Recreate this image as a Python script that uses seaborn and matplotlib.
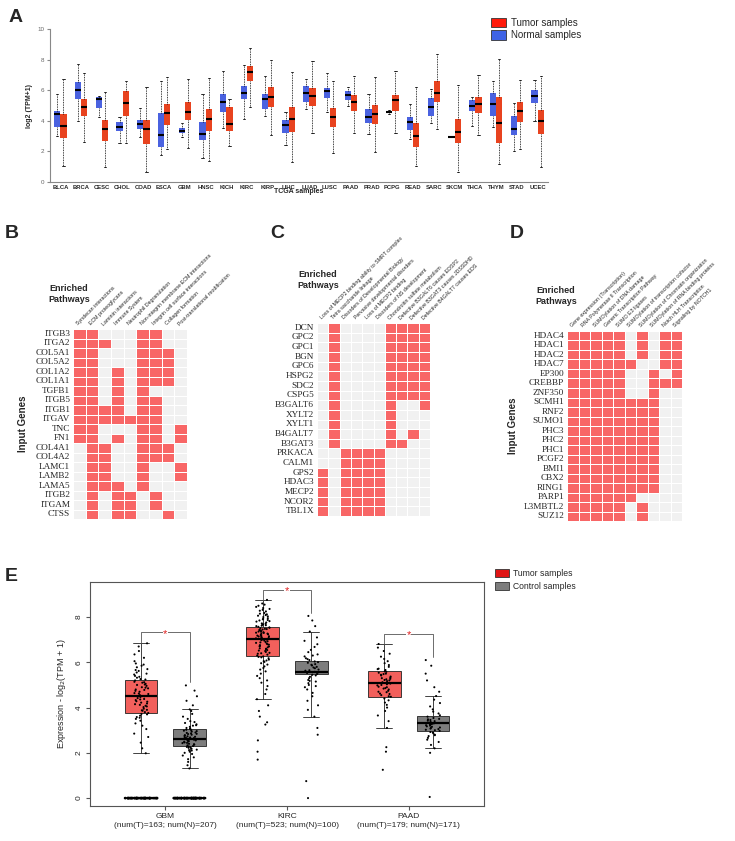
import numpy as np
import pandas as pd
import matplotlib
matplotlib.use('Agg')
import matplotlib.pyplot as plt
from matplotlib.colors import ListedColormap
from matplotlib.patches import Patch
import seaborn as sns

# ---------------- Panel A data: box summaries [low whisker, q1, median, q3, high whisker]
tcga_types = ['BLCA', 'BRCA', 'CESC', 'CHOL', 'COAD', 'ESCA', 'GBM', 'HNSC', 'KICH', 'KIRC',
              'KIRP', 'LIHC', 'LUAD', 'LUSC', 'PAAD', 'PRAD', 'PCPG', 'READ', 'SARC', 'SKCM',
              'THCA', 'THYM', 'STAD', 'UCEC']
normal_stats = [
    [3.0, 3.6, 4.45, 4.65, 5.75], [4.0, 5.4, 6.0, 6.55, 7.7], [4.28, 4.83, 5.4, 5.55, 5.63],
    [2.58, 3.36, 3.6, 3.9, 4.28], [2.93, 3.47, 3.78, 4.06, 4.83], [1.77, 2.31, 3.08, 4.54, 6.57],
    [2.93, 3.23, 3.36, 3.52, 3.84], [1.55, 2.75, 3.12, 3.93, 5.76], [3.52, 4.56, 5.24, 5.74, 7.23],
    [4.1, 5.41, 5.83, 6.29, 7.66], [4.32, 4.76, 5.44, 5.74, 6.9], [2.42, 3.19, 3.71, 4.06, 4.6],
    [4.76, 5.26, 5.81, 6.29, 6.72], [4.6, 5.48, 5.96, 6.14, 7.12], [4.98, 5.37, 5.7, 5.98, 6.24],
    [3.14, 3.84, 4.28, 4.78, 5.74], [4.45, 4.52, 4.56, 4.62, 4.7], [2.79, 3.41, 3.95, 4.28, 5.11],
    [3.84, 4.34, 4.93, 5.52, 6.09], [2.97, 2.97, 2.97, 2.97, 2.97], [3.67, 4.65, 5.0, 5.33, 5.55],
    [3.58, 4.32, 5.09, 5.81, 6.57], [2.03, 3.08, 3.45, 4.34, 5.15], [4.0, 5.15, 5.63, 6.03, 6.64],
]
tumor_stats = [
    [1.05, 2.85, 3.65, 4.45, 6.7], [2.6, 4.3, 4.9, 5.4, 7.1], [1.0, 2.7, 3.45, 4.05, 5.9],
    [2.58, 4.32, 5.15, 5.92, 6.6], [0.63, 2.5, 3.45, 4.06, 6.24], [2.16, 3.71, 4.5, 5.11, 6.86],
    [2.25, 4.02, 4.6, 5.24, 6.75], [1.4, 3.36, 4.13, 4.76, 6.79], [2.36, 3.36, 3.8, 4.87, 5.44],
    [4.93, 6.57, 7.18, 7.6, 8.76], [3.08, 4.89, 5.55, 6.2, 7.95], [1.29, 3.3, 4.13, 4.87, 7.16],
    [3.23, 4.98, 5.63, 6.14, 7.88], [1.88, 3.58, 4.24, 4.83, 6.57], [3.23, 4.61, 5.26, 5.7, 6.94],
    [1.99, 3.8, 4.43, 5.04, 6.86], [3.19, 4.67, 5.33, 5.7, 7.23], [1.05, 2.27, 3.03, 3.84, 6.18],
    [3.47, 5.22, 5.81, 6.57, 8.36], [0.63, 2.53, 3.3, 4.13, 6.35], [3.08, 4.54, 5.09, 5.55, 6.97],
    [1.16, 2.58, 3.84, 5.55, 8.03], [2.14, 3.95, 4.61, 5.2, 6.64], [0.96, 3.12, 4.0, 4.72, 6.9],
]

# ---------------- Panels B, C, D: gene x pathway membership
b_genes = ['ITGB3', 'ITGA2', 'COL5A1', 'COL5A2', 'COL1A2', 'COL1A1', 'TGFB1', 'ITGB5', 'ITGB1', 'ITGAV',
           'TNC', 'FN1', 'COL4A1', 'COL4A2', 'LAMC1', 'LAMB2', 'LAMA5', 'ITGB2', 'ITGAM', 'CTSS']
b_paths = ['Syndecan interactions', 'ECM proteoglycans', 'Laminin interactions', 'Immune System',
           'Neutrophil Degranulation', 'Non-integrin membrane-ECM interactions',
           'Integrin cell surface interactions', 'Collagen formation', 'Post-translational modification']
b_matrix = [
    [1, 1, 0, 0, 0, 1, 1, 0, 0], [1, 1, 1, 0, 0, 1, 1, 0, 0], [1, 1, 0, 0, 0, 1, 1, 1, 0],
    [1, 1, 0, 0, 0, 1, 1, 1, 0], [1, 1, 0, 1, 0, 1, 1, 1, 0], [1, 1, 0, 1, 0, 1, 1, 1, 0],
    [1, 1, 0, 1, 0, 1, 0, 0, 0], [1, 1, 0, 1, 0, 1, 1, 0, 0], [1, 1, 1, 1, 0, 1, 1, 0, 0],
    [1, 1, 1, 1, 1, 1, 1, 0, 0], [1, 1, 0, 0, 0, 1, 1, 0, 1], [1, 1, 0, 1, 0, 1, 1, 0, 1],
    [0, 1, 1, 0, 0, 1, 1, 1, 0], [0, 1, 1, 0, 0, 1, 1, 1, 0], [0, 1, 1, 0, 0, 1, 0, 0, 1],
    [0, 1, 1, 0, 0, 1, 0, 0, 1], [0, 1, 1, 1, 0, 1, 0, 0, 0], [0, 1, 0, 1, 1, 0, 1, 0, 0],
    [0, 1, 0, 1, 1, 0, 1, 0, 0], [0, 1, 0, 1, 1, 0, 0, 1, 0],
]

c_genes = ['DCN', 'GPC2', 'GPC1', 'BGN', 'GPC6', 'HSPG2', 'SDC2', 'CSPG5', 'B3GALT6', 'XYLT2',
           'XYLT1', 'B4GALT7', 'B3GAT3', 'PRKACA', 'CALM1', 'GPS2', 'HDAC3', 'MECP2', 'NCOR2', 'TBL1X']
c_paths = ['Loss of MECP2 binding ability to SMRT complex', 'Tetra saccharide linkage',
           'Disorders of Developmental Biology', 'Pervasive developmental disorders',
           'Loss of MECP2 binding', 'Disorders of NS development', 'Chondroitin sulfate metabolism',
           'Defective B3GALT6 causes EDSP2', 'Defective B3GAT3 causes JDSSDHD',
           'Defective B4GALT7 causes EDS']
c_matrix = [
    [0, 1, 0, 0, 0, 0, 1, 1, 1, 1], [0, 1, 0, 0, 0, 0, 1, 1, 1, 1], [0, 1, 0, 0, 0, 0, 1, 1, 1, 1],
    [0, 1, 0, 0, 0, 0, 1, 1, 1, 1], [0, 1, 0, 0, 0, 0, 1, 1, 1, 1], [0, 1, 0, 0, 0, 0, 1, 1, 1, 1],
    [0, 1, 0, 0, 0, 0, 1, 1, 1, 1], [0, 1, 0, 0, 0, 0, 1, 1, 1, 1], [0, 1, 0, 0, 0, 0, 1, 0, 0, 1],
    [0, 1, 0, 0, 0, 0, 1, 0, 0, 0], [0, 1, 0, 0, 0, 0, 1, 0, 0, 0], [0, 1, 0, 0, 0, 0, 1, 0, 1, 0],
    [0, 1, 0, 0, 0, 0, 1, 1, 0, 0], [0, 0, 1, 1, 1, 1, 0, 0, 0, 0], [0, 0, 1, 1, 1, 1, 0, 0, 0, 0],
    [1, 0, 1, 1, 1, 1, 0, 0, 0, 0], [1, 0, 1, 1, 1, 1, 0, 0, 0, 0], [1, 0, 1, 1, 1, 1, 0, 0, 0, 0],
    [1, 0, 1, 1, 1, 1, 0, 0, 0, 0], [1, 0, 1, 1, 1, 1, 0, 0, 0, 0],
]

d_genes = ['HDAC4', 'HDAC1', 'HDAC2', 'HDAC7', 'EP300', 'CREBBP', 'ZNF350', 'SCMH1', 'RNF2', 'SUMO1',
           'PHC3', 'PHC2', 'PHC1', 'PCGF2', 'BMI1', 'CBX2', 'RING1', 'PARP1', 'L3MBTL2', 'SUZ12']
d_paths = ['Gene expression (Transcription)', 'RNA Polymerase II Transcription',
           'SUMOylation of DNA damage', 'Generic Transcription Pathway', 'SUMO E3 ligases',
           'SUMOylation of transcription cofactor', 'SUMOylation of Chromatin organization',
           'SUMOylation of RNA binding proteins', 'Notch HLH Transcription', 'Signaling by NOTCH1']
d_matrix = [
    [1, 1, 1, 1, 1, 0, 1, 0, 1, 1], [1, 1, 1, 1, 1, 0, 1, 0, 1, 1], [1, 1, 1, 1, 1, 0, 1, 0, 1, 1],
    [1, 1, 1, 1, 1, 1, 0, 0, 1, 1], [1, 1, 1, 1, 1, 0, 0, 1, 0, 1], [1, 1, 1, 1, 1, 0, 0, 1, 1, 1],
    [1, 1, 1, 1, 1, 0, 0, 1, 0, 0], [1, 1, 1, 1, 1, 1, 1, 1, 0, 0], [1, 1, 1, 1, 1, 1, 1, 1, 0, 0],
    [1, 1, 1, 1, 1, 1, 1, 1, 0, 0], [1, 1, 1, 1, 1, 1, 1, 1, 0, 0], [1, 1, 1, 1, 1, 1, 1, 1, 0, 0],
    [1, 1, 1, 1, 1, 1, 1, 1, 0, 0], [1, 1, 1, 1, 1, 1, 1, 1, 0, 0], [1, 1, 1, 1, 1, 1, 1, 1, 0, 0],
    [1, 1, 1, 1, 1, 1, 1, 1, 0, 0], [1, 1, 1, 1, 1, 1, 1, 1, 0, 0], [1, 1, 1, 1, 1, 1, 0, 0, 0, 0],
    [1, 1, 1, 1, 1, 0, 1, 0, 0, 0], [1, 1, 1, 1, 1, 0, 1, 0, 0, 0],
]

# ---------------- Panel E data
e_types = ['GBM', 'KIRC', 'PAAD']
e_labels = ['GBM\n(num(T)=163; num(N)=207)', 'KIRC\n(num(T)=523; num(N)=100)',
            'PAAD\n(num(T)=179; num(N)=171)']
e_tumor_box = [[1.98, 3.78, 4.5, 5.22, 6.84], [4.37, 6.28, 7.04, 7.58, 8.76], [3.1, 4.48, 5.1, 5.62, 6.81]]
e_control_box = [[1.31, 2.3, 2.6, 3.04, 3.92], [3.6, 5.47, 5.56, 6.06, 7.36], [2.2, 2.98, 3.3, 3.63, 4.51]]
e_zero_counts_tumor = [70, 0, 0]
e_zero_counts_control = [80, 0, 0]
gbm_t_pts = [1.98, 2.2, 2.45, 2.7, 2.85, 3.05, 3.2, 3.3, 3.42, 3.5, 3.58, 3.64, 3.7, 3.76, 3.8, 3.86,
             3.9, 3.95, 4.02, 4.08, 4.12, 4.18, 4.22, 4.28, 4.33, 4.38, 4.42, 4.47, 4.5, 4.55, 4.6,
             4.64, 4.7, 4.74, 4.8, 4.85, 4.9, 4.96, 5.0, 5.05, 5.1, 5.14, 5.2, 5.26, 5.32, 5.4, 5.46,
             5.55, 5.62, 5.7, 5.78, 5.85, 5.95, 6.05, 6.2, 6.35, 6.5, 6.7, 6.84,
             3.55, 3.72, 3.88, 4.05, 4.15, 4.26, 4.36, 4.52, 4.62, 4.78, 4.88, 5.02, 5.12, 5.24,
             5.36, 5.5, 5.66, 5.9]
gbm_n_pts = [1.31, 1.45, 1.6, 1.72, 1.8, 1.88, 1.95, 2.0, 2.05, 2.1, 2.14, 2.18, 2.22, 2.26, 2.3, 2.33,
             2.36, 2.4, 2.43, 2.46, 2.5, 2.52, 2.55, 2.58, 2.6, 2.62, 2.65, 2.68, 2.7, 2.73, 2.76, 2.8,
             2.83, 2.86, 2.9, 2.94, 2.98, 3.02, 3.06, 3.1, 3.15, 3.2, 3.26, 3.32, 3.4, 3.5, 3.6, 3.72,
             3.85, 3.92, 4.1, 4.3, 4.5, 4.75, 4.98,
             2.12, 2.28, 2.38, 2.48, 2.56, 2.64, 2.71, 2.78, 2.88, 2.96, 3.08, 3.22, 3.36, 2.24,
             2.44, 2.66, 2.84, 3.0]
kirc_t_pts = [1.7, 2.05, 2.55, 3.25, 3.35, 3.6, 3.85, 4.1, 4.37, 4.6, 4.8, 4.95, 5.1, 5.2, 5.3, 5.4,
              5.5, 5.6, 5.68, 5.75, 5.82, 5.9, 5.96, 6.02, 6.08, 6.12, 6.18, 6.22, 6.26, 6.3, 6.34,
              6.38, 6.42, 6.46, 6.5, 6.54, 6.58, 6.62, 6.66, 6.7, 6.73, 6.76, 6.8, 6.83, 6.86, 6.9,
              6.93, 6.96, 7.0, 7.03, 7.06, 7.09, 7.12, 7.15, 7.18, 7.21, 7.24, 7.27, 7.3, 7.33, 7.36,
              7.39, 7.42, 7.45, 7.48, 7.51, 7.54, 7.57, 7.6, 7.64, 7.68, 7.72, 7.76, 7.8, 7.85, 7.9,
              7.95, 8.0, 8.06, 8.12, 8.18, 8.25, 8.32, 8.4, 8.5, 8.6, 8.76,
              6.4, 6.6, 6.78, 6.88, 6.98, 7.08, 7.17, 7.26, 7.35, 7.44, 7.53, 7.62, 7.7, 7.82,
              7.92, 8.03, 8.15, 8.28, 8.45, 6.05, 6.24, 6.52, 6.71, 7.01, 7.14, 7.31, 7.47, 7.66,
              7.87, 8.09, 8.36, 8.55]
kirc_n_pts = [0.0, 0.75, 2.8, 3.1, 3.6, 3.9, 4.1, 4.3, 4.5, 4.65, 4.8, 4.9, 5.0, 5.08, 5.15, 5.22,
              5.3, 5.36, 5.42, 5.48, 5.53, 5.58, 5.63, 5.68, 5.74, 5.8, 5.86, 5.92, 5.98, 6.04, 6.1,
              6.18, 6.26, 6.35, 6.45, 6.55, 6.68, 6.8, 6.95, 7.1, 7.36, 7.6, 7.85, 8.05,
              5.45, 5.55, 5.65, 5.77, 5.89, 6.01, 6.14, 6.3, 4.95, 5.18]
paad_t_pts = [1.25, 2.05, 2.25, 3.1, 3.4, 3.65, 3.85, 4.0, 4.12, 4.22, 4.32, 4.4, 4.48, 4.55, 4.62,
              4.68, 4.74, 4.8, 4.86, 4.92, 4.98, 5.03, 5.08, 5.12, 5.17, 5.22, 5.27, 5.32, 5.37, 5.42,
              5.48, 5.54, 5.6, 5.66, 5.72, 5.8, 5.88, 5.96, 6.05, 6.15, 6.25, 6.38, 6.5, 6.65, 6.81,
              4.5, 4.7, 4.9, 5.0, 5.1, 5.2, 5.3, 5.45, 5.58, 5.7, 4.6, 4.84, 5.06, 5.25, 5.5]
paad_n_pts = [0.05, 2.0, 2.2, 2.35, 2.48, 2.58, 2.66, 2.74, 2.8, 2.86, 2.92, 2.97, 3.02, 3.07, 3.12,
              3.17, 3.22, 3.27, 3.32, 3.37, 3.42, 3.48, 3.54, 3.6, 3.66, 3.74, 3.82, 3.92, 4.05, 4.2,
              4.35, 4.51, 4.7, 4.9, 5.2, 5.5, 5.85, 6.1,
              2.9, 3.0, 3.1, 3.2, 3.3, 3.4, 3.5, 2.78, 3.05, 3.25, 3.45, 3.15]
e_sig_y = [7.32, 9.2, 7.26]

# ---------------- style
sns.set_style('white')
plt.rcParams['font.family'] = ['Liberation Sans', 'DejaVu Sans']

W, H = 735, 841
fig = plt.figure(figsize=(W / 100, H / 100), dpi=100)


def px_box(l, t, r, b):
    return [l / W, 1 - b / H, (r - l) / W, (b - t) / H]


red_a, blue_a = '#e8431f', '#4a62e0'

# ---------------- Panel A
rows = []
for t, n5, t5 in zip(tcga_types, normal_stats, tumor_stats):
    rows += [(t, 'Normal', v) for v in n5]
    rows += [(t, 'Tumor', v) for v in t5]
dfa = pd.DataFrame(rows, columns=['type', 'group', 'value'])

axA = fig.add_axes(px_box(50, 29, 548, 182))
sns.boxplot(data=dfa, x='type', y='value', hue='group', order=tcga_types,
            hue_order=['Normal', 'Tumor'], palette={'Normal': blue_a, 'Tumor': red_a},
            whis=np.inf, width=0.6, gap=0, saturation=1, legend=False, ax=axA,
            linecolor='black', boxprops=dict(linewidth=0))
# restyle lines: dotted whiskers, tiny caps, thick medians
medians = set(round(s[2], 3) for s in normal_stats + tumor_stats)
for line in axA.lines:
    xd, yd = [np.asarray(a, dtype=float) for a in line.get_data()]
    if len(xd) != 2:
        continue
    if xd[0] == xd[1]:
        line.set_linestyle((0, (1, 1)))
        line.set_linewidth(0.6)
    elif yd[0] == yd[1]:
        if round(yd[0], 3) in medians and abs(xd[1] - xd[0]) > 0.2:
            line.set_linewidth(1.5)
        else:
            c = (xd[0] + xd[1]) / 2
            line.set_xdata([c - 0.05, c + 0.05])
            line.set_linewidth(0.6)
axA.set_ylim(0, 10)
axA.set_yticks([0, 2, 4, 6, 8, 10])
axA.set_xlim(-0.5, len(tcga_types) - 0.5)
axA.tick_params(axis='y', labelsize=4.5, labelcolor='#666', length=2, color='#888', pad=2, left=True)
axA.tick_params(axis='x', labelsize=4.2, length=0, pad=2)
for lab in axA.get_xticklabels():
    lab.set_fontweight('bold')
axA.set_ylabel('log2 (TPM+1)', fontsize=5, fontweight='bold', labelpad=3)
axA.set_xlabel('TCGA samples', fontsize=5, fontweight='bold', labelpad=-1)
for s in ['top', 'right']:
    axA.spines[s].set_visible(False)
for s in ['left', 'bottom']:
    axA.spines[s].set_color('#888')
    axA.spines[s].set_linewidth(0.8)
fig.legend(handles=[Patch(facecolor='#ff1a0a', edgecolor='#333', linewidth=0.6, label='Tumor samples'),
                    Patch(facecolor='#3e63e6', edgecolor='#333', linewidth=0.6, label='Normal samples')],
           loc='upper left', bbox_to_anchor=(482 / W, 1 - 9 / H), frameon=False, fontsize=7,
           handlelength=1.6, handleheight=1.1, handletextpad=0.5, labelspacing=0.25)
fig.text(9 / W, 1 - 22 / H, 'A', fontsize=14, fontweight='bold')

# ---------------- Panels B, C, D
heat_cmap = ListedColormap(['#f1f1f1', '#f86666'])


def draw_heat(ax, mat, genes, paths):
    sns.heatmap(np.array(mat), ax=ax, cmap=heat_cmap, vmin=0, vmax=1, cbar=False,
                linewidths=0.6, linecolor='white', xticklabels=paths, yticklabels=genes)
    ax.xaxis.tick_top()
    ax.set_xticklabels(paths, rotation=45, ha='left', va='bottom', rotation_mode='anchor',
                       fontsize=3.8)
    ax.set_yticklabels(genes, rotation=0, fontsize=6.7, family='Liberation Serif')
    ax.tick_params(length=0, pad=2)
    ax.set_xlabel('')
    ax.set_ylabel('')


axB = fig.add_axes(px_box(73, 329, 187, 519))
draw_heat(axB, b_matrix, b_genes, b_paths)
axC = fig.add_axes(px_box(317, 323, 430, 516))
draw_heat(axC, c_matrix, c_genes, c_paths)
axD = fig.add_axes(px_box(567, 331, 682, 521))
draw_heat(axD, d_matrix, d_genes, d_paths)

for letter, x in [('B', 5), ('C', 270), ('D', 510)]:
    fig.text(x / W, 1 - 238 / H, letter, fontsize=14, fontweight='bold')
for x, y in [(69, 294), (318, 280), (556, 296)]:
    fig.text(x / W, 1 - y / H, 'Enriched\nPathways', fontsize=6.5, fontweight='bold',
             ha='center', va='center', linespacing=1.2)
for x, y in [(23, 424), (513, 426)]:
    fig.text(x / W, 1 - y / H, 'Input Genes', fontsize=7, fontweight='bold', rotation=90,
             ha='center', va='center')

# ---------------- Panel E
box_rows = []
pt_rows = []
zero_rows = []
pts_t = [gbm_t_pts, kirc_t_pts, paad_t_pts]
pts_n = [gbm_n_pts, kirc_n_pts, paad_n_pts]
for i, t in enumerate(e_types):
    box_rows += [(t, 'Tumor', v) for v in e_tumor_box[i]]
    box_rows += [(t, 'Control', v) for v in e_control_box[i]]
    pt_rows += [(t, 'Tumor', v) for v in pts_t[i]]
    pt_rows += [(t, 'Control', v) for v in pts_n[i]]
    zero_rows += [(t, 'Tumor', 0.0)] * e_zero_counts_tumor[i]
    zero_rows += [(t, 'Control', 0.0)] * e_zero_counts_control[i]
dfe_box = pd.DataFrame(box_rows, columns=['type', 'group', 'value'])
dfe_pts = pd.DataFrame(pt_rows, columns=['type', 'group', 'value'])
dfe_zero = pd.DataFrame(zero_rows, columns=['type', 'group', 'value'])

axE = fig.add_axes(px_box(90, 582, 484, 806))
sns.boxplot(data=dfe_box, x='type', y='value', hue='group', order=e_types,
            hue_order=['Tumor', 'Control'], palette={'Tumor': '#f2605c', 'Control': '#7d7d7d'},
            whis=np.inf, width=0.8, gap=0.33, saturation=1, legend=False, ax=axE,
            linecolor='#222', linewidth=0.6,
            medianprops=dict(linewidth=1.6, color='black'))
sns.stripplot(data=dfe_pts, x='type', y='value', hue='group', order=e_types,
              hue_order=['Tumor', 'Control'], palette={'Tumor': 'black', 'Control': 'black'},
              dodge=True, jitter=0.12, size=1.5, linewidth=0, legend=False, ax=axE)
sns.stripplot(data=dfe_zero, x='type', y='value', hue='group', order=e_types,
              hue_order=['Tumor', 'Control'], palette={'Tumor': 'black', 'Control': 'black'},
              dodge=True, jitter=0.27, size=1.8, linewidth=0, legend=False, ax=axE)
for i in range(len(e_types)):
    lb = e_tumor_box[i][4]
    rb = max(pts_n[i]) + 0.15
    y = e_sig_y[i]
    axE.plot([i - 0.2, i - 0.2, i + 0.2, i + 0.2], [lb, y, y, rb], color='#555', lw=0.6)
    axE.text(i, y - 0.05, '*', color='#e02020', ha='center', va='center', fontsize=8,
             bbox=dict(facecolor='white', edgecolor='none', pad=0.3))
axE.set_xlim(-0.62, 2.62)
axE.set_ylim(-0.35, 9.55)
axE.set_yticks([0, 2, 4, 6, 8])
axE.set_xticks(range(3))
axE.set_xticklabels(e_labels, fontsize=6, linespacing=1.4)
axE.tick_params(axis='y', labelsize=6, length=3, color='#555', labelrotation=90, left=True, pad=2)
axE.tick_params(axis='x', length=3, color='#555', bottom=True, pad=2)
for lab in axE.get_yticklabels():
    lab.set_va('center')
axE.set_ylabel('Expression - log$_2$(TPM + 1)', fontsize=6.5, labelpad=6)
axE.set_xlabel('')
for s in axE.spines.values():
    s.set_color('#555')
    s.set_linewidth(0.8)
fig.legend(handles=[Patch(facecolor='#e01414', edgecolor='#333', linewidth=0.6, label='Tumor samples'),
                    Patch(facecolor='#7d7d7d', edgecolor='#333', linewidth=0.6, label='Control samples')],
           loc='upper left', bbox_to_anchor=(487 / W, 1 - 561 / H), frameon=False, fontsize=6.2,
           handlelength=1.6, handleheight=1.0, handletextpad=0.5, labelspacing=0.5)
fig.text(5 / W, 1 - 581 / H, 'E', fontsize=14, fontweight='bold')

fig.savefig('out.png', dpi=100)
